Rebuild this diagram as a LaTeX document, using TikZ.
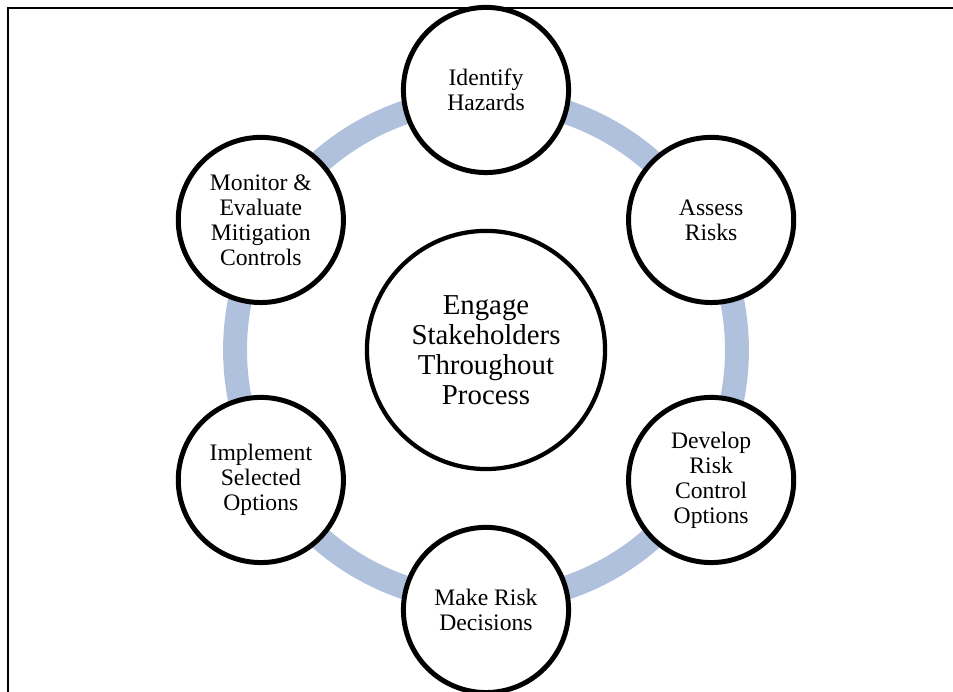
\documentclass[tikz,border=0pt]{standalone}
\usepackage{fontspec}
\setmainfont{Liberation Serif}
\usepackage{tikz}
\usetikzlibrary{positioning,calc}
\definecolor{ringblue}{RGB}{176,193,221}

\tikzset{
  stage/.style={circle, draw=black, line width=3.75pt, fill=white, minimum size=4.37cm,
    inner sep=0pt, align=center, font=\fontsize{17.8}{18.8}\selectfont},
  hub/.style={circle, draw=black, line width=3.2pt, fill=white, minimum size=6.3cm,
    inner sep=0pt, align=center, font=\fontsize{21.7}{22.6}\selectfont},
  cycle ring/.style={draw=ringblue, line width=18pt}
}

\begin{document}
\begin{tikzpicture}
		\useasboundingbox (-12.859,-9.049) rectangle (12.356,9.260);
		% frame
		\draw [black, line width=1.5pt] (-12.647,-9.1) to (-12.647,9.049) to (12.4,9.049);
		% ring behind the stages
		\coordinate (mid) at (0,0);
		\draw [cycle ring] (mid) circle (6.64);
		\node[hub] (engage) at (mid) {Engage\\Stakeholders\\Throughout\\Process};
		\node[stage] (identify) at (0,6.879) {Identify\\Hazards};
		\node[stage] (assess) at (5.957,3.44) {Assess\\Risks};
		\node[stage] (develop) at (5.957,-3.44) {Develop\\Risk\\Control\\Options};
		\node[stage] (decide) at (0,-6.879) {Make Risk\\Decisions};
		\node[stage] (implement) at (-5.957,-3.44) {Implement\\Selected\\Options};
		\node[stage] (monitor) at (-5.957,3.44) {Monitor \&\\Evaluate\\Mitigation\\Controls};
\end{tikzpicture}
\end{document}
